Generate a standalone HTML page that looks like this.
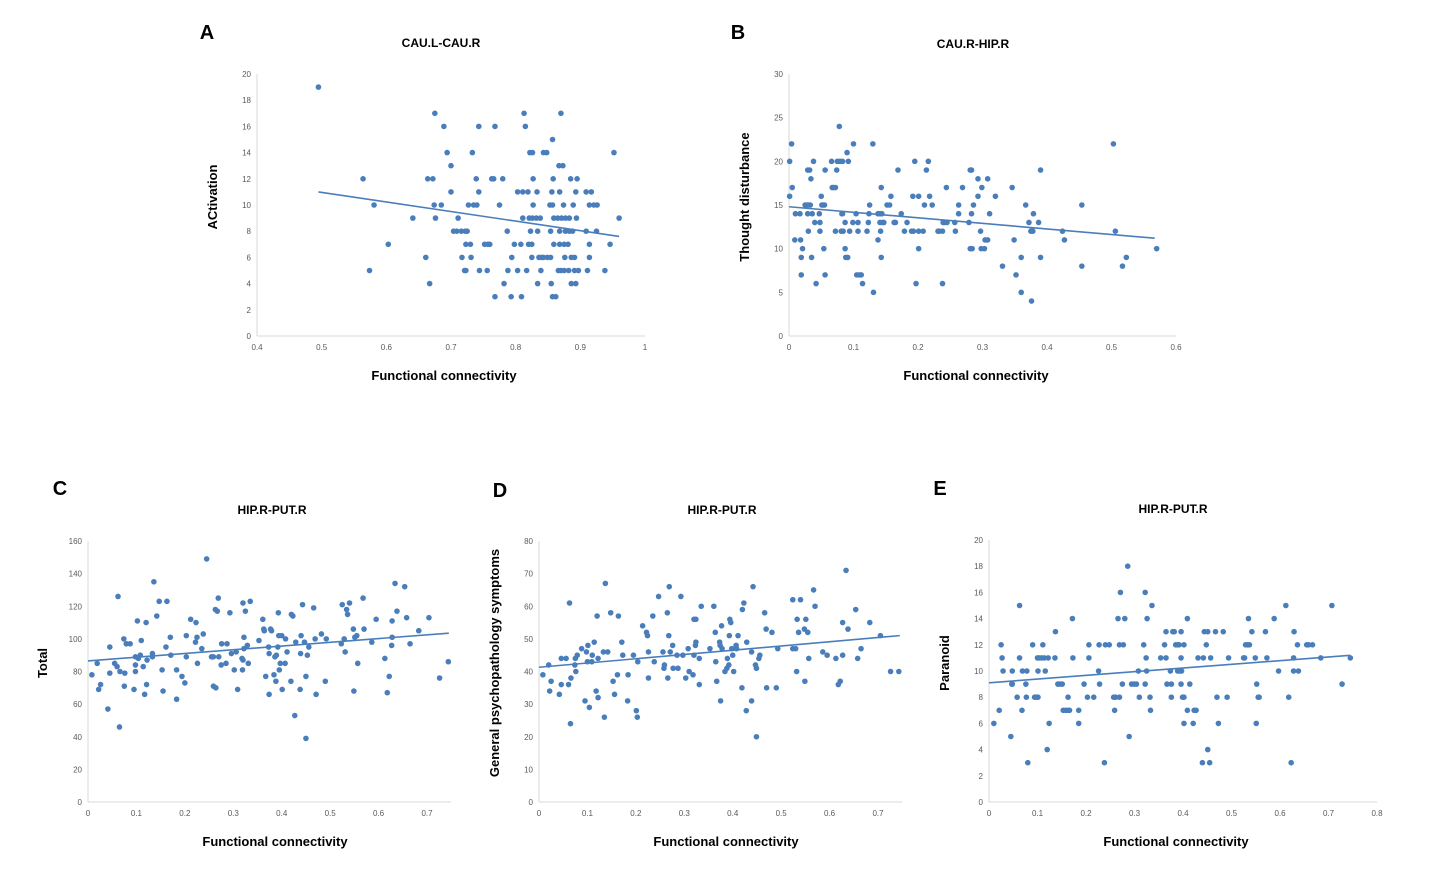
<!DOCTYPE html>
<html><head><meta charset="utf-8"><style>
html,body{margin:0;padding:0;background:#fff;}
svg{display:block;font-family:"Liberation Sans",sans-serif;}
</style></head><body>
<svg id="fig" width="1433" height="871" viewBox="0 0 1433 871" xmlns="http://www.w3.org/2000/svg"></svg>
<script>
// ---- Panel A data ----
const aX=[0.495,0.675,0.813,0.870,0.689,0.743,0.768,0.815,0.857,0.694,0.733,0.822,0.826,0.843,0.848,0.952,0.700,0.867,0.873,
0.564,0.664,0.672,0.739,0.763,0.766,0.780,0.827,0.858,0.885,0.895,
0.700,0.743,0.803,0.811,0.819,0.833,0.856,0.868,0.893,0.909,0.917,
0.581,0.674,0.685,0.727,0.735,0.740,0.775,0.827,0.853,0.857,0.874,0.889,0.914,0.921,0.926,
0.641,0.676,0.711,0.811,0.821,0.826,0.832,0.838,0.859,0.865,0.871,0.877,0.883,0.894,0.960,
0.704,0.709,0.716,0.722,0.725,0.787,0.823,0.834,0.854,0.868,0.877,0.883,0.888,0.909,0.925,
0.603,0.723,0.730,0.752,0.757,0.760,0.798,0.808,0.820,0.825,0.859,0.868,0.875,0.881,0.914,0.946,
0.661,0.717,0.731,0.794,0.825,0.836,0.840,0.843,0.849,0.854,0.876,0.886,0.891,0.914,
0.574,0.721,0.723,0.744,0.756,0.788,0.803,0.817,0.839,0.866,0.870,0.875,0.882,0.891,0.897,0.911,0.938,
0.667,0.782,0.834,0.855,0.886,0.893,
0.768,0.793,0.809,0.857,0.862];
const aY=[19,17,17,17,16,16,16,16,15,14,14,14,14,14,14,14,13,13,13,
12,12,12,12,12,12,12,12,12,12,12,
11,11,11,11,11,11,11,11,11,11,11,
10,10,10,10,10,10,10,10,10,10,10,10,10,10,10,
9,9,9,9,9,9,9,9,9,9,9,9,9,9,9,
8,8,8,8,8,8,8,8,8,8,8,8,8,8,8,
7,7,7,7,7,7,7,7,7,7,7,7,7,7,7,7,
6,6,6,6,6,6,6,6,6,6,6,6,6,6,
5,5,5,5,5,5,5,5,5,5,5,5,5,5,5,5,5,
4,4,4,4,4,4,
3,3,3,3,3];
const aTrendX=[0.495,0.96], aTrendY=[11.0,7.6];
const aXTicks=["0.4","0.5","0.6","0.7","0.8","0.9","1"], aYTicks=["0","2","4","6","8","10","12","14","16","18","20"];

// ---- Panel B data ----
const bX=[0.078,0.004,0.100,0.130,0.503,0.090,
0.001,0.038,0.066,0.075,0.079,0.083,0.092,0.195,0.216,
0.029,0.032,0.056,0.074,0.169,0.213,0.281,0.283,0.390,
0.034,0.293,0.308,
0.005,0.067,0.069,0.072,0.143,0.244,0.269,0.299,0.346,
0.001,0.050,0.158,0.192,0.201,0.218,0.293,0.320,
0.025,0.028,0.030,0.033,0.051,0.053,0.055,0.125,0.152,0.156,0.210,0.222,0.263,0.286,0.367,0.454,
0.010,0.017,0.029,0.036,0.047,0.082,0.083,0.104,0.124,0.138,0.141,0.144,0.174,0.263,0.283,0.311,0.379,
0.040,0.048,0.087,0.099,0.107,0.123,0.141,0.145,0.147,0.163,0.165,0.183,0.239,0.241,0.245,0.257,0.279,0.372,0.387,
0.030,0.048,0.072,0.081,0.084,0.094,0.107,0.121,0.142,0.179,0.190,0.193,0.201,0.208,0.231,0.233,0.238,0.258,0.297,0.375,0.378,0.424,0.506,
0.009,0.018,0.138,0.304,0.308,0.349,0.427,
0.021,0.054,0.087,0.201,0.281,0.284,0.298,0.303,0.570,
0.019,0.035,0.088,0.091,0.143,0.360,0.390,0.523,
0.331,0.454,0.517,
0.019,0.056,0.105,0.109,0.112,0.352,
0.042,0.114,0.197,0.238,
0.131,0.360,0.376];
const bY=[24,22,22,22,22,21,
20,20,20,20,20,20,20,20,20,
19,19,19,19,19,19,19,19,19,
18,18,18,
17,17,17,17,17,17,17,17,17,
16,16,16,16,16,16,16,16,
15,15,15,15,15,15,15,15,15,15,15,15,15,15,15,15,
14,14,14,14,14,14,14,14,14,14,14,14,14,14,14,14,14,
13,13,13,13,13,13,13,13,13,13,13,13,13,13,13,13,13,13,13,
12,12,12,12,12,12,12,12,12,12,12,12,12,12,12,12,12,12,12,12,12,12,12,
11,11,11,11,11,11,11,
10,10,10,10,10,10,10,10,10,
9,9,9,9,9,9,9,9,
8,8,8,
7,7,7,7,7,7,
6,6,6,6,
5,5,4];
const bTrendX=[0,0.567], bTrendY=[14.8,11.2];
const bXTicks=["0","0.1","0.2","0.3","0.4","0.5","0.6"], bYTicks=["0","5","10","15","20","25","30"];

// ---- Panel C data ----
const cX=[0.008,0.019,0.022,0.026,0.041,0.045,0.045,0.055,0.060,0.062,0.065,0.066,0.074,0.075,0.076,0.079,0.087,0.095,0.098,0.098,0.098,0.102,0.104,0.108,0.110,0.114,0.117,0.120,0.121,0.122,0.133,0.133,0.136,0.142,0.147,0.153,0.155,0.161,0.163,0.170,0.171,0.183,0.183,0.194,0.200,0.203,0.203,0.212,0.222,0.223,0.225,0.226,0.235,0.238,0.245,0.255,0.259,0.259,0.264,0.263,0.267,0.269,0.270,0.275,0.276,0.285,0.287,0.293,0.296,0.302,0.306,0.309,0.318,0.319,0.320,0.320,0.322,0.322,0.325,0.329,0.331,0.335,0.353,0.361,0.363,0.364,0.367,0.373,0.374,0.374,0.377,0.379,0.384,0.386,0.388,0.389,0.392,0.393,0.394,0.395,0.397,0.400,0.401,0.407,0.408,0.411,0.419,0.420,0.423,0.427,0.429,0.438,0.439,0.440,0.443,0.447,0.450,0.450,0.453,0.456,0.466,0.469,0.471,0.482,0.490,0.492,0.523,0.525,0.529,0.531,0.534,0.536,0.540,0.548,0.549,0.551,0.555,0.557,0.568,0.570,0.586,0.595,0.613,0.618,0.622,0.627,0.628,0.628,0.634,0.638,0.654,0.658,0.665,0.683,0.704,0.726,0.744];
const cY=[78,85,69,72,57,95,79,85,83,126,46,80,100,71,79,97,97,69,80,89,84,111,88,90,99,83,66,110,72,87,91,89,135,114,123,81,68,95,123,101,90,81,63,77,73,102,89,112,98,110,101,85,94,103,149,89,89,71,70,118,117,125,89,84,97,85,97,116,91,81,92,69,88,81,87,122,101,94,117,96,85,123,99,112,106,105,77,95,66,91,106,105,78,89,74,90,95,116,102,81,85,102,69,85,100,92,74,115,114,53,98,69,91,102,121,98,77,39,90,95,119,100,66,103,74,100,97,121,100,92,118,115,122,106,68,101,102,85,125,106,98,112,88,67,77,96,111,101,134,117,132,113,97,105,113,76,86];
const cTrendX=[0,0.745], cTrendY=[86.5,103.5];
const cXTicks=["0","0.1","0.2","0.3","0.4","0.5","0.6","0.7"], cYTicks=["0","20","40","60","80","100","120","140","160"];

// ---- Panel D data ----
const dX=[0.008,0.020,0.022,0.025,0.042,0.046,0.046,0.056,0.061,0.063,0.065,0.066,0.074,0.075,0.076,0.079,0.088,0.095,0.098,0.100,0.101,0.104,0.109,0.110,0.114,0.118,0.120,0.122,0.122,0.133,0.135,0.137,0.142,0.148,0.153,0.156,0.162,0.164,0.171,0.173,0.184,0.183,0.195,0.201,0.203,0.204,0.214,0.222,0.224,0.226,0.226,0.235,0.238,0.247,0.256,0.258,0.259,0.265,0.266,0.268,0.269,0.271,0.276,0.277,0.285,0.287,0.293,0.297,0.303,0.308,0.310,0.318,0.320,0.320,0.323,0.324,0.324,0.331,0.331,0.335,0.353,0.361,0.364,0.365,0.367,0.373,0.374,0.375,0.377,0.378,0.384,0.388,0.389,0.392,0.393,0.394,0.396,0.398,0.400,0.402,0.407,0.408,0.411,0.419,0.420,0.423,0.428,0.429,0.439,0.439,0.442,0.447,0.449,0.449,0.454,0.456,0.466,0.469,0.470,0.481,0.490,0.493,0.524,0.524,0.530,0.532,0.533,0.536,0.540,0.548,0.549,0.551,0.555,0.557,0.567,0.570,0.586,0.595,0.613,0.618,0.622,0.627,0.627,0.634,0.638,0.654,0.658,0.665,0.683,0.705,0.726,0.743];
const dY=[39,42,34,37,33,36,44,44,36,61,24,38,42,44,40,45,47,31,46,43,48,29,43,45,49,34,57,32,44,46,26,67,46,58,37,33,39,57,49,45,39,31,45,28,26,43,54,52,51,46,38,57,43,63,46,41,42,58,38,51,66,46,48,41,45,41,63,45,38,47,40,39,45,56,48,56,49,36,44,60,47,60,52,43,37,49,48,31,54,47,40,41,44,42,51,56,55,47,45,40,48,47,51,35,59,61,28,49,46,31,66,42,41,20,44,45,58,53,35,52,35,47,62,47,47,40,56,52,62,53,37,56,52,44,65,60,46,45,44,36,37,55,45,71,53,59,44,47,55,51,40,40];
const dTrendX=[0,0.745], dTrendY=[41.3,51.0];
const dXTicks=["0","0.1","0.2","0.3","0.4","0.5","0.6","0.7"], dYTicks=["0","10","20","30","40","50","60","70","80"];

// ---- Panel E data ----
const eX=[0.286,0.271,0.322,0.063,0.336,0.612,0.707,0.172,0.266,0.280,0.326,0.409,0.535,0.588,
0.137,0.365,0.379,0.382,0.396,0.444,0.451,0.467,0.483,0.542,0.570,0.629,
0.025,0.090,0.111,0.206,0.227,0.240,0.248,0.269,0.277,0.319,0.362,0.385,0.389,0.392,0.402,0.448,0.529,0.533,0.537,0.636,0.655,0.659,0.667,
0.027,0.063,0.100,0.104,0.109,0.114,0.122,0.136,0.173,0.206,0.324,0.354,0.365,0.396,0.431,0.442,0.457,0.494,0.525,0.527,0.549,0.573,0.628,0.684,0.745,
0.029,0.048,0.069,0.078,0.101,0.116,0.226,0.308,0.325,0.374,0.389,0.393,0.397,0.597,0.628,0.638,
0.047,0.048,0.076,0.142,0.146,0.151,0.196,0.228,0.275,0.294,0.299,0.304,0.322,0.367,0.376,0.396,0.414,0.552,0.728,
0.058,0.077,0.094,0.098,0.101,0.163,0.203,0.216,0.257,0.261,0.269,0.310,0.332,0.376,0.399,0.402,0.470,0.491,0.555,0.557,0.618,
0.021,0.068,0.153,0.158,0.162,0.166,0.185,0.259,0.333,0.409,0.423,0.427,
0.010,0.124,0.185,0.402,0.421,0.473,0.551,
0.045,0.289,0.120,0.451,
0.080,0.238,0.440,0.455,0.623];
const eY=[18,16,16,15,15,15,15,14,14,14,14,14,14,14,
13,13,13,13,13,13,13,13,13,13,13,13,
12,12,12,12,12,12,12,12,12,12,12,12,12,12,12,12,12,12,12,12,12,12,12,
11,11,11,11,11,11,11,11,11,11,11,11,11,11,11,11,11,11,11,11,11,11,11,11,11,
10,10,10,10,10,10,10,10,10,10,10,10,10,10,10,10,
9,9,9,9,9,9,9,9,9,9,9,9,9,9,9,9,9,9,9,
8,8,8,8,8,8,8,8,8,8,8,8,8,8,8,8,8,8,8,8,8,
7,7,7,7,7,7,7,7,7,7,7,7,
6,6,6,6,6,6,6,
5,5,4,4,
3,3,3,3,3];
const eTrendX=[0,0.745], eTrendY=[9.1,11.2];
const eXTicks=["0","0.1","0.2","0.3","0.4","0.5","0.6","0.7","0.8"], eYTicks=["0","2","4","6","8","10","12","14","16","18","20"];

const NS="http://www.w3.org/2000/svg";
const svg=document.getElementById('fig');
const DOT="#4a7ebb";
function mk(tag,attrs,parent){const e=document.createElementNS(NS,tag);for(const k in attrs)e.setAttribute(k,attrs[k]);(parent||svg).appendChild(e);return e;}

function panel(cfg){
  const g=mk('g',{});
  
  
  const xs=v=>cfg.px0+(v-cfg.xmin)/(cfg.xmax-cfg.xmin)*(cfg.px1-cfg.px0);
  const ys=v=>cfg.py0-(v-cfg.ymin)/(cfg.ymax-cfg.ymin)*(cfg.py0-cfg.py1);
  // axes
  const ya=mk('line',{x1:cfg.px0,x2:cfg.px0,y1:cfg.py0,y2:cfg.py1,stroke:'#d9d9d9','stroke-width':1},g);
  
  
  const xa=mk('line',{x1:cfg.px0,x2:cfg.axEnd,y1:cfg.py0,y2:cfg.py0,stroke:'#d9d9d9','stroke-width':1},g);
  
  
  cfg.yt.forEach(t=>{
    const el=mk('text',{x:cfg.px0-6,y:ys(parseFloat(t))+3,'font-size':8,fill:'#595959','text-anchor':'end'},g);
    el.textContent=t;
    
    
  });
  cfg.xt.forEach(t=>{
    const el=mk('text',{x:xs(parseFloat(t)),y:cfg.py0+14,'font-size':8,fill:'#595959','text-anchor':'middle'},g);
    el.textContent=t;
    
    
  });
  cfg.X.forEach((v,i)=>{
    const c=mk('circle',{cx:xs(v),cy:ys(cfg.Y[i]),r:2.8,fill:DOT},g);
    
    
  });
  const tl=mk('line',{x1:xs(cfg.tx[0]),y1:ys(cfg.ty[0]),x2:xs(cfg.tx[1]),y2:ys(cfg.ty[1]),stroke:DOT,'stroke-width':1.6},g);
  
  
  const title=mk('text',{x:cfg.title[1],y:cfg.title[2],'font-size':12,'font-weight':'bold','text-anchor':'middle',fill:'#000'},g);
  title.textContent=cfg.title[0];
  
  
  const letter=mk('text',{x:cfg.letter[1],y:cfg.letter[2],'font-size':20,'font-weight':'bold','text-anchor':'middle',fill:'#000'},g);
  letter.textContent=cfg.letter[0];
  
  
  const xt=mk('text',{x:cfg.xtitle[0],y:cfg.xtitle[1],'font-size':13,'font-weight':'bold','text-anchor':'middle',fill:'#000'},g);
  xt.textContent='Functional connectivity';
  
  
  const yt=mk('text',{x:0,y:0,'font-size':13,'font-weight':'bold','text-anchor':'middle',fill:'#000',transform:'translate('+cfg.ytitle[1]+','+cfg.ytitle[2]+') rotate(-90)'},g);
  yt.textContent=cfg.ytitle[0];
  
  
}

panel({id:'panel-a',X:aX,Y:aY,tx:aTrendX,ty:aTrendY,xt:aXTicks,yt:aYTicks,xmin:0.4,xmax:1,ymin:0,ymax:20,px0:257,px1:645,axEnd:645,py0:336,py1:74,
  title:['CAU.L-CAU.R',441,47],letter:['A',207,39],xtitle:[444,380],ytitle:['ACtivation',217,197]});
panel({id:'panel-b',X:bX,Y:bY,tx:bTrendX,ty:bTrendY,xt:bXTicks,yt:bYTicks,xmin:0,xmax:0.6,ymin:0,ymax:30,px0:789,px1:1176,axEnd:1176,py0:336,py1:74,
  title:['CAU.R-HIP.R',973,48],letter:['B',738,39],xtitle:[976,380],ytitle:['Thought disturbance',749,197]});
panel({id:'panel-c',X:cX,Y:cY,tx:cTrendX,ty:cTrendY,xt:cXTicks,yt:cYTicks,xmin:0,xmax:0.7,ymin:0,ymax:160,px0:88,px1:427,axEnd:451,py0:802,py1:541,
  title:['HIP.R-PUT.R',272,514],letter:['C',60,495],xtitle:[275,846],ytitle:['Total',47,663]});
panel({id:'panel-d',X:dX,Y:dY,tx:dTrendX,ty:dTrendY,xt:dXTicks,yt:dYTicks,xmin:0,xmax:0.7,ymin:0,ymax:80,px0:539,px1:878,axEnd:902,py0:802,py1:541,
  title:['HIP.R-PUT.R',722,514],letter:['D',500,497],xtitle:[726,846],ytitle:['General  psychopathology symptoms',499,663]});
panel({id:'panel-e',X:eX,Y:eY,tx:eTrendX,ty:eTrendY,xt:eXTicks,yt:eYTicks,xmin:0,xmax:0.8,ymin:0,ymax:20,px0:989,px1:1377,axEnd:1377,py0:802,py1:540,
  title:['HIP.R-PUT.R',1173,513],letter:['E',940,495],xtitle:[1176,846],ytitle:['Paranoid',949,663]});
</script>
</body></html>
